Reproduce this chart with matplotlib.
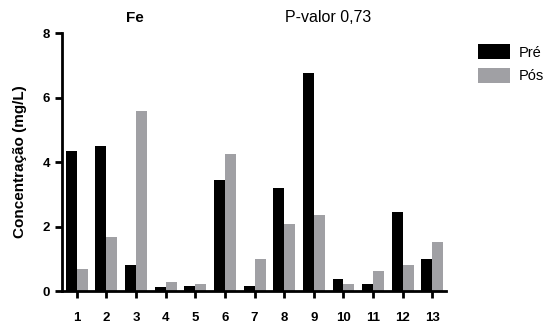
import matplotlib.pyplot as plt
import numpy as np

plt.rcParams['font.family'] = ['Liberation Sans', 'DejaVu Sans']

# Fe concentration per sample, before (Pré) and after (Pós)
amostras = ['1', '2', '3', '4', '5', '6', '7', '8', '9', '10', '11', '12', '13']
pre = [4.33, 4.51, 0.80, 0.11, 0.16, 3.45, 0.15, 3.18, 6.76, 0.37, 0.23, 2.45, 0.98]
pos = [0.67, 1.69, 5.59, 0.27, 0.22, 4.24, 0.98, 2.07, 2.36, 0.23, 0.62, 0.81, 1.51]

fig = plt.figure(figsize=(5.57, 3.27), dpi=100)
ax = fig.add_axes([0.1113, 0.110, 0.6894, 0.789])

x = np.arange(1, len(amostras) + 1)
w = 0.37
ax.bar(x - w / 2, pre, width=w, color='black', label='Pré')
ax.bar(x + w / 2, pos, width=w, color='#a0a0a4', label='Pós')

ax.set_xlim(0.5, 13.46)
ax.set_ylim(0, 8)
ax.set_yticks([0, 2, 4, 6, 8])
ax.set_xticks(x)
ax.set_xticklabels(amostras)

for s in ['top', 'right']:
    ax.spines[s].set_visible(False)
for s in ['left', 'bottom']:
    ax.spines[s].set_linewidth(2)
ax.tick_params(axis='both', direction='out', length=5, width=2,
               labelsize=9.5)
ax.tick_params(axis='x', pad=10)
for lbl in ax.get_xticklabels() + ax.get_yticklabels():
    lbl.set_fontweight('bold')

ax.set_ylabel('Concentração (mg/L)', fontsize=11, fontweight='bold', labelpad=11)

fig.text(0.242, 0.945, 'Fe', fontsize=11, fontweight='bold', ha='center', va='center')
fig.text(0.512, 0.945, 'P-valor 0,73', fontsize=11.5, ha='left', va='center')

ax.legend(loc='upper left', bbox_to_anchor=(0.835, 0.905),
          bbox_transform=fig.transFigure, frameon=False, fontsize=10.5,
          handlelength=2.2, handleheight=1.2, labelspacing=0.55,
          handletextpad=0.6)

fig.savefig('out.png', dpi=100)
